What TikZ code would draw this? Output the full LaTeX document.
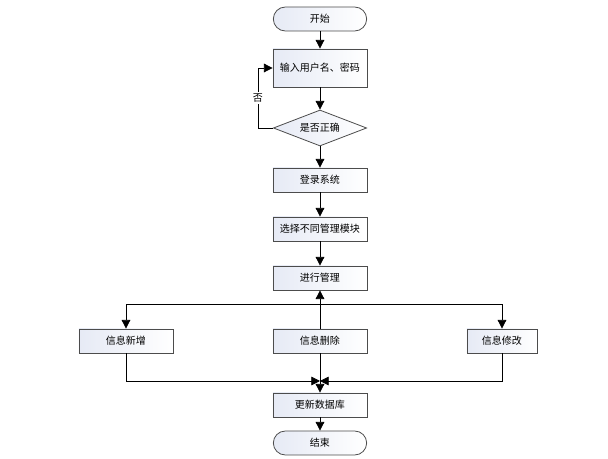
\documentclass[tikz,border=0pt]{standalone}
\usepackage{fontspec}
\setmainfont{Noto Sans CJK SC}
\usetikzlibrary{shapes.geometric,arrows.meta,positioning}

\definecolor{boxshade}{RGB}{230,234,245}

\tikzset{
  box/.style={draw=black!70, line width=0.6pt, left color=boxshade,
    right color=white, minimum width=70.5pt, minimum height=18pt,
    inner sep=0pt, font=\fontsize{7.5}{9}\selectfont},
  terminal/.style={box, rounded corners=9pt, minimum width=70pt},
  decision/.style={box, diamond, aspect=2.6, minimum width=70pt,
    minimum height=27pt},
  line/.style={draw, line width=0.6pt, -{Triangle[length=6.5pt,width=6.5pt]}}
}

\begin{document}
\begin{tikzpicture}[on grid]
  \useasboundingbox (-240pt,14.25pt) rectangle (216pt,-330pt);
  % Login part: start, input and the check with its loop back.
  \node[terminal] (start) at (0,0) {开始};
  \node[box, minimum height=28.5pt] (input) [below=36.75pt of start] {输入用户名、密码};
  \node[decision] (check) [below=45pt of input] {是否正确};
  \node[box] (login) [below=39pt of check] {登录系统};
  \node[box] (select) [below=36.75pt of login] {选择不同管理模块};
  \node[box] (manage) [below=36.75pt of select] {进行管理};
  % The three management modules side by side.
  \node[box] (del) [below=47.25pt of manage] {信息删除};
  \node[box] (add) [left=145.5pt of del] {信息新增};
  \node[box, minimum width=52.5pt] (mod) [right=136.5pt of del] {信息修改};
  \node[box] (update) [below=48pt of del] {更新数据库};
  \node[terminal] (end) [below=28.5pt of update] {结束};
  % Split and merge points.
  \coordinate[below=19.5pt of manage] (split);
  \coordinate[above=18pt of update] (merge);
  % Connectors.
  \draw[line] (start) -- (input);
  \draw[line] (input) -- (check);
  \draw[line] (check.west) -- ++(-11.25pt,0) |- (input.west)
    node[pos=0.25, fill=white, inner sep=1pt, font=\fontsize{7.5}{9}\selectfont] {否};
  \draw[line] (check) -- (login);
  \draw[line] (login) -- (select);
  \draw[line] (select) -- (manage);
  \draw[line] (del) -- (manage);
  \draw[line] (split) -| (add.north);
  \draw[line] (split) -| (mod.north);
  \draw[line] (add.south) |- (merge);
  \draw[line] (mod.south) |- (merge);
  \draw[line] (del) -- (update);
  \draw[line] (update) -- (end);
\end{tikzpicture}
\end{document}
